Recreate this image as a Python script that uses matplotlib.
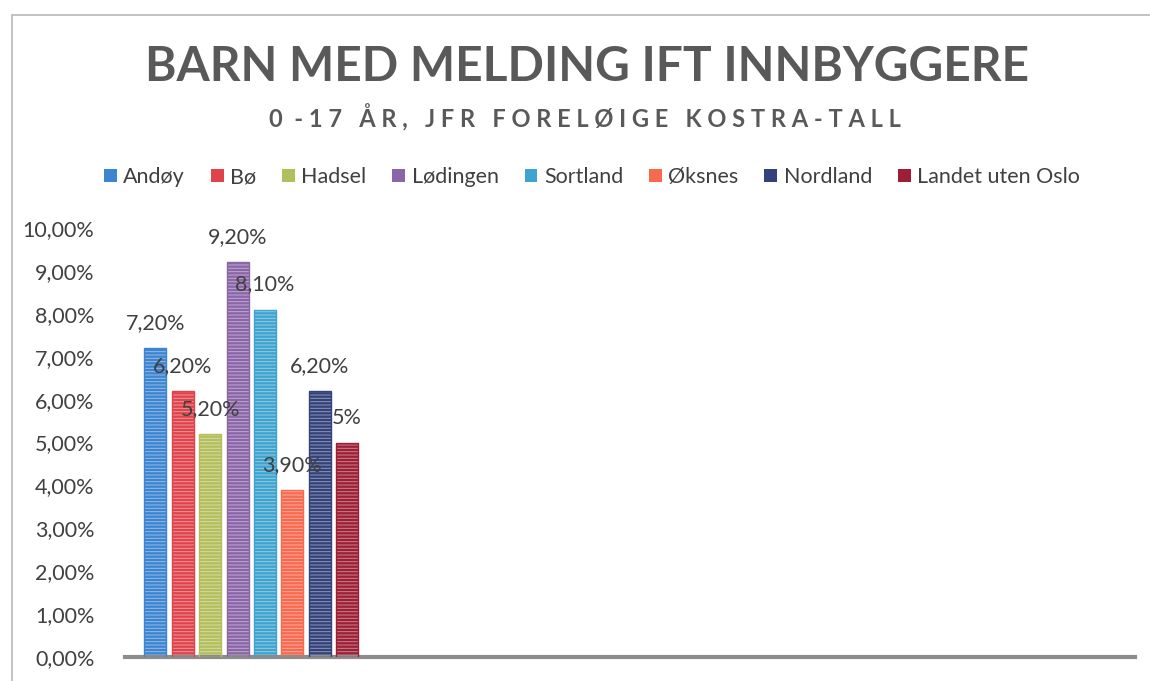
import matplotlib.pyplot as plt
from matplotlib.patches import Rectangle, Patch

# data (verdier i prosent)
kommuner = ['Andøy', 'Bø', 'Hadsel', 'Lødingen', 'Sortland', 'Øksnes', 'Nordland', 'Landet uten Oslo']
verdier = [7.2, 6.2, 5.2, 9.2, 8.1, 3.9, 6.2, 5.0]
etiketter = ['7,20%', '6,20%', '5,20%', '9,20%', '8,10%', '3,90%', '6,20%', '5%']
farger = ['#3d85d0', '#e0434b', '#b3be5c', '#8a66a8', '#3ea3cf', '#f8694f', '#33427a', '#9c1f35']
yticks = [0, 1, 2, 3, 4, 5, 6, 7, 8, 9, 10]
ytick_labels = ['0,00%', '1,00%', '2,00%', '3,00%', '4,00%', '5,00%',
                '6,00%', '7,00%', '8,00%', '9,00%', '10,00%']

plt.rcParams['font.family'] = ['Lato', 'DejaVu Sans']
plt.rcParams['hatch.color'] = (1, 1, 1, 0.45)
plt.rcParams['hatch.linewidth'] = 0.7

fig = plt.figure(figsize=(11.5, 6.81), dpi=100)
ax = fig.add_axes([125 / 1150, 24 / 681, 1010 / 1150, 429 / 681])

# ramme rundt diagrammet
fig.patches.append(Rectangle((12 / 1150, -0.1), 1.2, 1 - 15 / 681 + 0.1,
                             transform=fig.transFigure, fill=False,
                             edgecolor='#b8b8b8', linewidth=1.2))

bredde = 0.087
avstand = 0.1085
start = 0.5 - avstand * (len(verdier) - 1) / 2
for i, (v, f, lab) in enumerate(zip(verdier, farger, etiketter)):
    x = start + i * avstand
    ax.bar(x, v, width=bredde, color=f, hatch='-----', zorder=2)
    ax.bar(x, v, width=bredde, fill=False, edgecolor=f, linewidth=1, zorder=3)
    ax.annotate(lab, (x, v), xytext=(0, 18), textcoords='offset points',
                ha='center', va='center', fontsize=15.5, color='#404040',
                zorder=4, annotation_clip=False)

ax.set_xlim(0, 4)
ax.set_ylim(0, 10)
ax.set_yticks(yticks)
ax.set_yticklabels(ytick_labels, fontsize=15.5, color='#404040')
ax.tick_params(axis='y', length=0, pad=22)
ax.set_xticks([])
for s in ['top', 'right', 'left']:
    ax.spines[s].set_visible(False)
ax.spines['bottom'].set_color('#8c8c8c')
ax.spines['bottom'].set_linewidth(3)

fig.text(587 / 1150, 1 - 67 / 681, 'BARN MED MELDING IFT INNBYGGERE',
         ha='center', va='center', fontsize=34.5, fontweight='bold', color='#595959')
fig.text(585 / 1150, 1 - 118 / 681, '0  - 1 7   Å R ,   J F R   F O R E L Ø I G E   K O S T R A - T A L L',
         ha='center', va='center', fontsize=17, fontweight='bold', color='#595959')

handles = [Patch(facecolor=f) for f in farger]
fig.legend(handles, kommuner, loc='center', bbox_to_anchor=(592 / 1150, 1 - 177 / 681),
           ncol=8, frameon=False, fontsize=15.5, handlelength=0.6, handleheight=0.6,
           handletextpad=0.3, columnspacing=1.2, labelcolor='#404040')

fig.savefig('out.png', dpi=100)
